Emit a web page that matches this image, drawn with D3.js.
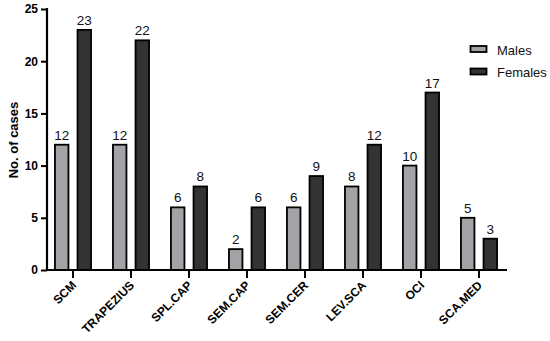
<!DOCTYPE html>
<html><head><meta charset="utf-8">
<script src="https://cdn.jsdelivr.net/npm/d3@7"></script>
<style>body{margin:0;background:#fff}svg{display:block}</style>
</head><body>
<script>
const categories = ["SCM","TRAPEZIUS","SPL.CAP","SEM.CAP","SEM.CER","LEV.SCA","OCI","SCA.MED"];
const males = [12,12,6,2,6,8,10,5];
const females = [23,22,8,6,9,12,17,3];
const seriesNames = ["Males","Females"];
const seriesColors = ["#a3a3a7","#333333"];
const yTicks = [0,5,10,15,20,25];

const W=550,H=341;
const svg=d3.select("body").append("svg").attr("width",W).attr("height",H);
const font="Liberation Sans, Arial, sans-serif";
const x=d3.scaleBand().domain(categories).range([44,508]);
const y=d3.scaleLinear().domain([0,25]).range([270,9]);
const offsets={Males:-11.3,Females:11.3};
const barW=13.5;
const data=[males,females];

const g=svg.append("g");
categories.forEach((c,i)=>{
  seriesNames.forEach((s,j)=>{
    const v=data[j][i];
    const cx=x(c)+x.bandwidth()/2+offsets[s];
    g.append("rect").attr("x",cx-barW/2).attr("y",y(v)).attr("width",barW)
     .attr("height",y(0)-y(v)).attr("fill",seriesColors[j]).attr("stroke","#000").attr("stroke-width",1.8);
    g.append("text").attr("x",cx).attr("y",y(v)-5)
     .attr("text-anchor","middle").attr("font-family",font).attr("font-size",13.5).attr("fill","#111").text(v);
  });
});

// y axis
const ya=svg.append("g").attr("transform","translate(47,0)")
  .call(d3.axisLeft(y).tickValues(yTicks).tickSize(6).tickPadding(3));
ya.select(".domain").attr("stroke-width",2.2).attr("d","M0,"+(y(25)-1)+"V"+(y(0)+1));
ya.selectAll(".tick line").attr("stroke-width",2);
ya.selectAll("text").attr("font-family",font).attr("font-size",12).attr("font-weight","bold").attr("fill","#000");

// x axis
const xa=svg.append("g").attr("transform","translate(0,270)")
  .call(d3.axisBottom(x).tickSize(8).tickFormat(""));
xa.select(".domain").attr("stroke-width",2.2).attr("d","M46,0H507");
xa.selectAll(".tick line").attr("stroke-width",2);
xa.selectAll(".tick text").remove();
const k=Math.SQRT1_2;
categories.forEach(c=>{
  const tx=x(c)+x.bandwidth()/2+4, ty=286;
  svg.append("text").attr("transform",`matrix(${k},${-k},${k},${k},${tx},${ty})`)
    .style("transform",`translate(${tx}px,${ty}px) rotate(-45deg)`)
    .attr("text-anchor","end").attr("font-family",font).attr("font-size",12).attr("font-weight","bold")
    .attr("fill","#000").text(c);
});

// y label
svg.append("text").attr("transform","translate(18,140) rotate(-90)").attr("text-anchor","middle")
  .attr("font-family",font).attr("font-size",13).attr("font-weight","bold").text("No. of cases");

// legend
seriesNames.forEach((s,j)=>{
  svg.append("rect").attr("x",470.5).attr("y",46+j*22.5).attr("width",16).attr("height",6)
   .attr("fill",seriesColors[j]).attr("stroke","#000").attr("stroke-width",1.8);
  svg.append("text").attr("x",497).attr("y",54.5+j*22.5).attr("font-family",font).attr("font-size",13)
   .attr("fill","#111").text(s);
});
</script>
</body></html>
